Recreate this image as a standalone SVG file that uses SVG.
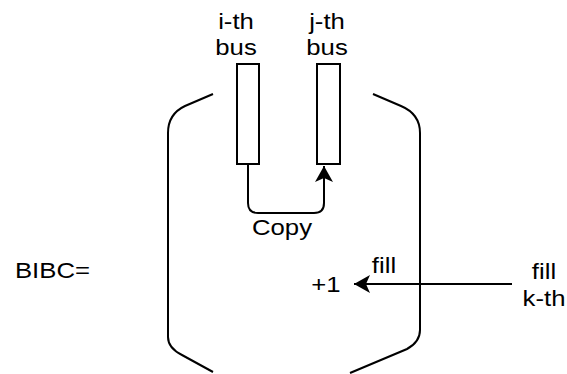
<svg xmlns="http://www.w3.org/2000/svg" width="567" height="374" viewBox="0 0 567 374">
<defs>
<style>
text{font-family:"Liberation Sans",Arial,sans-serif;font-size:22px;fill:#000;text-anchor:middle}
.ln{fill:none;stroke:#000;stroke-width:2}
.bus{fill:#fff;stroke:#000;stroke-width:2}
</style>
<marker id="ah" viewBox="0 0 20 20" refX="18" refY="10" markerWidth="20" markerHeight="20" markerUnits="userSpaceOnUse" orient="auto">
<path d="M2 1 L18 10 L2 19 L6 10 Z" fill="#000"/>
</marker>
</defs>
<rect width="567" height="374" fill="#fff"/>
<g id="bracket">
<path class="ln" d="M213 94 L185 106 Q168 114 168 133 V337 Q168 348 182 355 L213 372"/>
<path class="ln" d="M373 94 L401 106 Q420 114 420 133 V330 Q420 342 407 349 L350 373"/>
</g>
<g id="ibus">
<rect class="bus" x="237" y="64" width="22" height="100"/>
<text transform="translate(236,29) scale(1.17,1)">i-th</text>
<text transform="translate(236,55) scale(1.17,1)">bus</text>
</g>
<g id="jbus">
<rect class="bus" x="317" y="64" width="23" height="100"/>
<text transform="translate(327,29) scale(1.17,1)">j-th</text>
<text transform="translate(327,55) scale(1.17,1)">bus</text>
</g>
<g id="bibc"><text transform="translate(52.5,278) scale(1.17,1)">BIBC=</text></g>
<g id="plus1"><text transform="translate(326,292) scale(1.17,1)">+1</text></g>
<g id="fillk"><text transform="translate(544,279) scale(1.17,1)">fill</text><text transform="translate(544,306) scale(1.17,1)">k-th</text></g>
<g id="connectors">
<path class="ln" d="M248 164 V203 Q248 213 258 213 H314 Q324 213 324 203 V166" marker-end="url(#ah)"/>
<text transform="translate(282,235) scale(1.17,1)">Copy</text>
<path class="ln" d="M512 284 H354" marker-end="url(#ah)"/>
<text transform="translate(384,273) scale(1.17,1)">fill</text>
</g>
</svg>
